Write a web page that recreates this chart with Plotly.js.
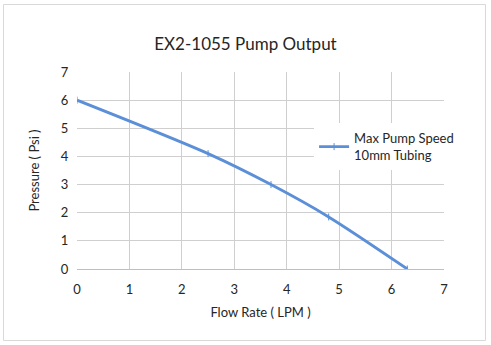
<!DOCTYPE html>
<html><head><meta charset="utf-8">
<script src="https://cdn.plot.ly/plotly-3.0.1.min.js"></script>
<style>html,body{margin:0;padding:0;background:#fff}#c{width:491px;height:345px}</style>
</head><body><div id="c"></div>
<script>
const flowRate = [0, 2.5, 3.7, 4.8, 6.3];
const pressure = [6, 4.1, 3.0, 1.85, 0];
const seriesName = 'Max Pump Speed<br>10mm Tubing';
const xTicks = [0,1,2,3,4,5,6,7];
const yTicks = [0,1,2,3,4,5,6,7];
const F = 'Lato, "Liberation Sans", sans-serif';
const trace = {
  x: flowRate, y: pressure, name: seriesName, type: 'scatter', mode: 'lines+markers',
  line: {color: '#5b8fd8', width: 2.8, shape: 'spline', smoothing: 0.8},
  marker: {symbol: 'line-ns-open', size: 5, color: '#5b8fd8', line: {color: '#5b8fd8', width: 1}}
};
const layout = {
  width: 491, height: 345,
  margin: {l: 77, r: 47, t: 72, b: 76},
  paper_bgcolor: '#fff', plot_bgcolor: '#fff',
  font: {family: F, color: '#404040', size: 13},
  title: {text: 'EX2-1055 Pump Output', font: {family: F, size: 17, color: '#262626'}, x: 0.5, xanchor: 'center', y: 0.872, yanchor: 'middle'},
  xaxis: {range: [0, 7], tickvals: xTicks, ticktext: xTicks.map(String), showgrid: true, gridcolor: '#cfcfcf', gridwidth: 1,
    zeroline: false, showline: true, linecolor: '#bfbfbf', linewidth: 1, ticks: 'outside', ticklen: 8, tickcolor: 'rgba(0,0,0,0)',
    tickfont: {family: F, size: 13, color: '#262626'},
    title: {text: 'Flow Rate ( LPM )', font: {family: F, size: 13, color: '#262626'}, standoff: 12}},
  yaxis: {range: [0, 7], tickvals: yTicks, ticktext: yTicks.map(String), showgrid: true, gridcolor: '#cfcfcf', gridwidth: 1,
    zeroline: false, showline: false, ticks: 'outside', ticklen: 5, tickcolor: 'rgba(0,0,0,0)', tickfont: {family: F, size: 13, color: '#262626'},
    title: {text: 'Pressure ( Psi )', font: {family: F, size: 13, color: '#262626'}, standoff: 18}},
  showlegend: true,
  legend: {x: 0.646, y: 0.74, xanchor: 'left', yanchor: 'top', bgcolor: '#ffffff', borderwidth: 0,
    font: {family: F, size: 13, color: '#262626'}, itemwidth: 30},
  shapes: [{type: 'rect', xref: 'paper', yref: 'paper', x0: -0.2003, x1: 1.1131, y0: -0.3629, y1: 1.3426,
    line: {color: '#d9d9d9', width: 1}, fillcolor: 'rgba(0,0,0,0)', layer: 'below'}]
};
Plotly.newPlot('c', [trace], layout, {displayModeBar: false, staticPlot: true});
</script></body></html>
